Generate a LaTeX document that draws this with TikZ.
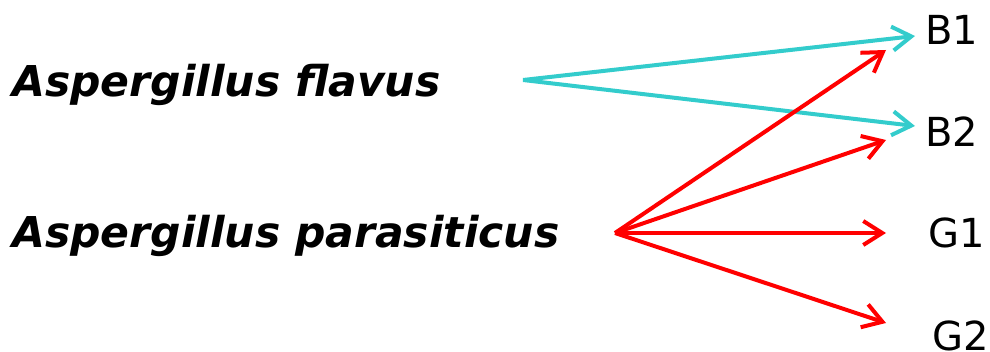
\documentclass[tikz,border=0pt]{standalone}
\usepackage{fontspec}
\setmainfont{DejaVu Sans}
\usetikzlibrary{arrows.meta}
\definecolor{flavuscyan}{RGB}{51,204,204}

\begin{document}
\begin{tikzpicture}[
    x=1pt, y=-1pt,
    % Styles
    species/.style={inner sep=0pt, anchor=base west, font=\fontsize{42.5}{50}\selectfont\bfseries\itshape},
    toxin/.style={inner sep=0pt, anchor=base west, font=\fontsize{40}{48}\selectfont},
    flavusarrow/.style={-{Straight Barb[length=19pt, width=24pt]}, line width=4pt, draw=flavuscyan},
    paraarrow/.style={-{Straight Barb[length=19pt, width=24pt]}, line width=4pt, draw=red}
]
\useasboundingbox (0,0) rectangle (990,352);

% ------------------- SPECIES -------------------
\node[species] (flavus) at (12,97) {Aspergillus flavus};
\node[species] (para) at (12,248) {Aspergillus parasiticus};

% ------------------- AFLATOXINS -------------------
\node[toxin] (B1) at (925,45) {B1};
\node[toxin] (B2) at (925,147) {B2};
\node[toxin] (G1) at (928,248) {G1};
\node[toxin] (G2) at (932,350) {G2};

\coordinate (flavus fork) at (523,80);
\coordinate (para fork) at (615,233);

% ------------------- A. FLAVUS -------------------
\draw[flavusarrow] (flavus fork) -- ([shift={(-10,-9)}]B1.base west);
\draw[flavusarrow] (flavus fork) -- ([shift={(-10,-21)}]B2.base west);

% ------------------- A. PARASITICUS -------------------
\draw[paraarrow] (para fork) -- ([shift={(-39,5)}]B1.base west);
\draw[paraarrow] (para fork) -- ([shift={(-39,-7)}]B2.base west);
\draw[paraarrow] (para fork) -- ([shift={(-42,-15)}]G1.base west);
\draw[paraarrow] (para fork) -- ([shift={(-46,-27)}]G2.base west);

\end{tikzpicture}
\end{document}
